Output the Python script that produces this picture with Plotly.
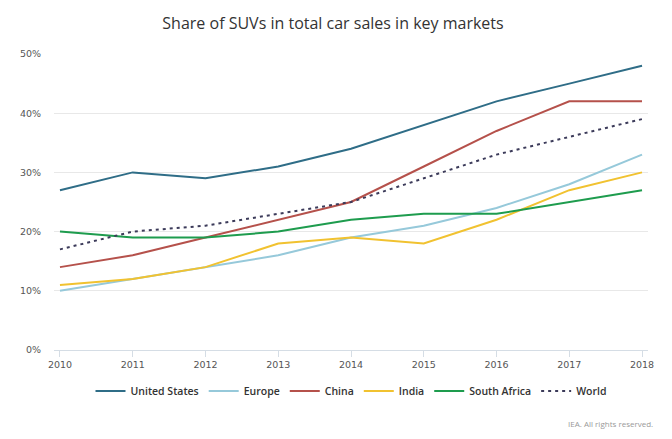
import plotly.graph_objects as go

years = [2010, 2011, 2012, 2013, 2014, 2015, 2016, 2017, 2018]
united_states = [27, 30, 29, 31, 34, 38, 42, 45, 48]
europe = [10, 12, 14, 16, 19, 21, 24, 28, 33]
china = [14, 16, 19, 22, 25, 31, 37, 42, 42]
india = [11, 12, 14, 18, 19, 18, 22, 27, 30]
south_africa = [20, 19, 19, 20, 22, 23, 23, 25, 27]
world = [17, 20, 21, 23, 25, 29, 33, 36, 39]

series = [
    ("United States", united_states, "#2f6d87", "solid"),
    ("Europe", europe, "#96c9da", "solid"),
    ("China", china, "#b5514b", "solid"),
    ("India", india, "#f1c230", "solid"),
    ("South Africa", south_africa, "#1e9c4e", "solid"),
    ("World", world, "#3c3b5a", "3px,4px"),
]

fig = go.Figure()
for name, vals, color, dash in series:
    fig.add_trace(go.Scatter(
        x=years, y=vals, name=name, mode="lines",
        line=dict(color=color, width=2, dash=dash),
    ))

font = "Open Sans, Noto Sans, sans-serif"
tickfont = "DejaVu Sans, Verdana, sans-serif"
W, H = 664, 431  # page body has an 8px margin
fig.update_layout(
    width=W, height=H,
    margin=dict(l=42, r=24, t=46, b=89),
    paper_bgcolor="white", plot_bgcolor="white",
    font=dict(family=font, color="#555"),
    title=dict(text="Share of SUVs in total car sales in key markets",
               x=(333 - 8) / W, xanchor="center", y=1 - 15 / H, yanchor="middle",
               font=dict(size=16, color="#333", family=font)),
    showlegend=True,
    legend=dict(orientation="h", x=0.5, xanchor="center",
                yref="paper", y=(342 - 383) / 296, yanchor="middle",
                font=dict(size=10.5, color="#333", weight=600), itemwidth=30,
                traceorder="normal"),
    xaxis=dict(range=[2009.918, 2018.082], tickmode="array", tickvals=years,
               ticktext=[str(y) for y in years],
               showgrid=False, showline=True, linecolor="#d5dde5", linewidth=1,
               ticks="outside", ticklen=6, tickcolor="#d5dde5",
               tickfont=dict(size=9.5, color="#555", family=tickfont),
               zeroline=False),
    yaxis=dict(range=[0, 50], tickvals=[0, 10, 20, 30, 40, 50],
               ticktext=["0%", "10%", "20%", "30%", "40%", "50%"],
               showgrid=True, gridcolor="#e8e8e8", gridwidth=1,
               zeroline=False, showline=False, ticks="",
               ticklabelstandoff=12,
               tickfont=dict(size=9.5, color="#555", family=tickfont)),
)

fig.add_annotation(text="IEA. All rights reserved.", xref="paper", yref="paper",
                   x=(655 - 50) / 598, y=(350 - 423) / 296,
                   xanchor="right", yanchor="middle", showarrow=False,
                   font=dict(size=8, color="#999", family=font))

fig.write_html("out.html")
